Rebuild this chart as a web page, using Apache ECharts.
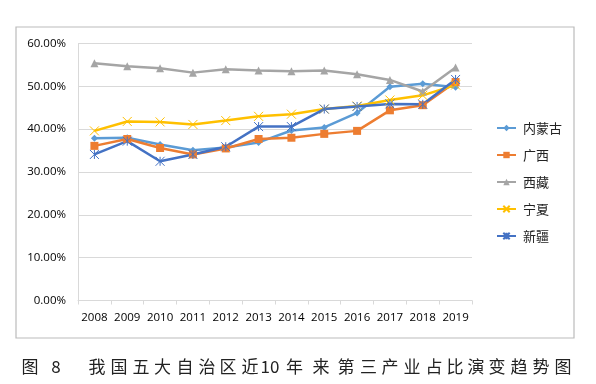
<!DOCTYPE html>
<html>
<head>
<meta charset="utf-8">
<script src="https://cdn.jsdelivr.net/npm/echarts@6/dist/echarts.min.js"></script>
<style>html,body{margin:0;padding:0;background:#fff;}#c{width:596px;height:384px;}</style>
</head>
<body>
<div id="c"></div>
<script>
var years = ['2008','2009','2010','2011','2012','2013','2014','2015','2016','2017','2018','2019'];
var seriesNames = ['内蒙古','广西','西藏','宁夏','新疆'];
var neimenggu = [37.9,38.0,36.4,35.1,35.7,36.9,39.7,40.4,43.8,49.9,50.6,49.8];
var guangxi   = [36.1,37.7,35.6,34.1,35.5,37.7,38.0,38.9,39.6,44.4,45.6,51.0];
var xizang    = [55.4,54.7,54.2,53.2,54.0,53.7,53.5,53.7,52.8,51.5,48.8,54.4];
var ningxia   = [39.6,41.8,41.7,41.1,42.0,43.0,43.5,44.7,45.4,46.8,47.9,50.3];
var xinjiang  = [34.1,37.2,32.5,34.1,35.9,40.6,40.6,44.7,45.3,45.9,45.8,51.6];
var yTicks = [0,10,20,30,40,50,60];

var colors = ['#5B9BD5','#ED7D31','#A5A5A5','#FFC000','#4472C4'];
var xPath = 'path://M0,0 L10,10 M10,0 L0,10';
var starPath = 'path://M0,0 L10,10 M10,0 L0,10 M5,0 L5,10';
var symbols = ['diamond','rect','triangle',xPath,starPath];
var sizes = [7,8,8,9,9];
var dataSets = [neimenggu,guangxi,xizang,ningxia,xinjiang];

var series = seriesNames.map(function(n,i){
  var isPath = i >= 3;
  return {
    name: n, type: 'line', data: dataSets[i],
    symbol: symbols[i], symbolSize: sizes[i],
    color: colors[i],
    lineStyle: {width: 2.5, color: colors[i]},
    itemStyle: isPath ? {color: colors[i], borderColor: colors[i], borderWidth: 1} : {color: colors[i]},
    emphasis: {disabled: true},
    animation: false
  };
});

var capTokens = ['图','8','我','国','五','大','自','治','区','近','10','年','来','第','三','产','业','占','比','演','变','趋','势','图'];
var capX = [30,56,97,119,141,162.5,185,207,228,250,270,294.5,321,346,368.5,390,412,434,455,476,497,519,541,563];
var graphics = [{
  type: 'rect', shape: {x: 16, y: 27, width: 558, height: 311},
  style: {fill: 'none', stroke: '#BBBBBB', lineWidth: 1.2}, silent: true
}];
capTokens.forEach(function(t,i){
  graphics.push({
    type: 'text', x: capX[i], y: 367,
    style: {text: t, fill: '#222', font: '17px "Noto Sans CJK SC"', align: 'center', verticalAlign: 'middle'},
    silent: true
  });
});

var chart = echarts.init(document.getElementById('c'), null, {renderer: 'canvas'});
chart.setOption({
  animation: false,
  backgroundColor: '#fff',
  grid: {left: 78, right: 124, top: 43.5, bottom: 83.5, containLabel: false},
  xAxis: {
    type: 'category', data: years, boundaryGap: true,
    axisLine: {lineStyle: {color: '#D9D9D9', width: 1}},
    axisTick: {show: true, length: 4, lineStyle: {color: '#D9D9D9'}},
    axisLabel: {color: '#000', fontFamily: 'Open Sans', fontSize: 11.5, margin: 11, interval: 0}
  },
  yAxis: {
    type: 'value', min: yTicks[0], max: yTicks[yTicks.length-1], interval: 10,
    axisLine: {show: true, lineStyle: {color: '#D9D9D9', width: 1}},
    axisTick: {show: false},
    splitLine: {lineStyle: {color: '#D9D9D9', width: 1}},
    axisLabel: {color: '#000', fontFamily: 'Open Sans', fontSize: 11.5, margin: 12,
      formatter: function(v){ return v.toFixed(2) + '%'; }}
  },
  legend: {
    orient: 'vertical', left: 491, top: 116,
    itemWidth: 19, itemHeight: 8, itemGap: 13,
    textStyle: {fontFamily: 'Noto Sans CJK SC', fontSize: 13, color: '#222', lineHeight: 14, padding: [0,0,0,2]},
    data: seriesNames
  },
  series: series,
  graphic: graphics
});
</script>
</body>
</html>
